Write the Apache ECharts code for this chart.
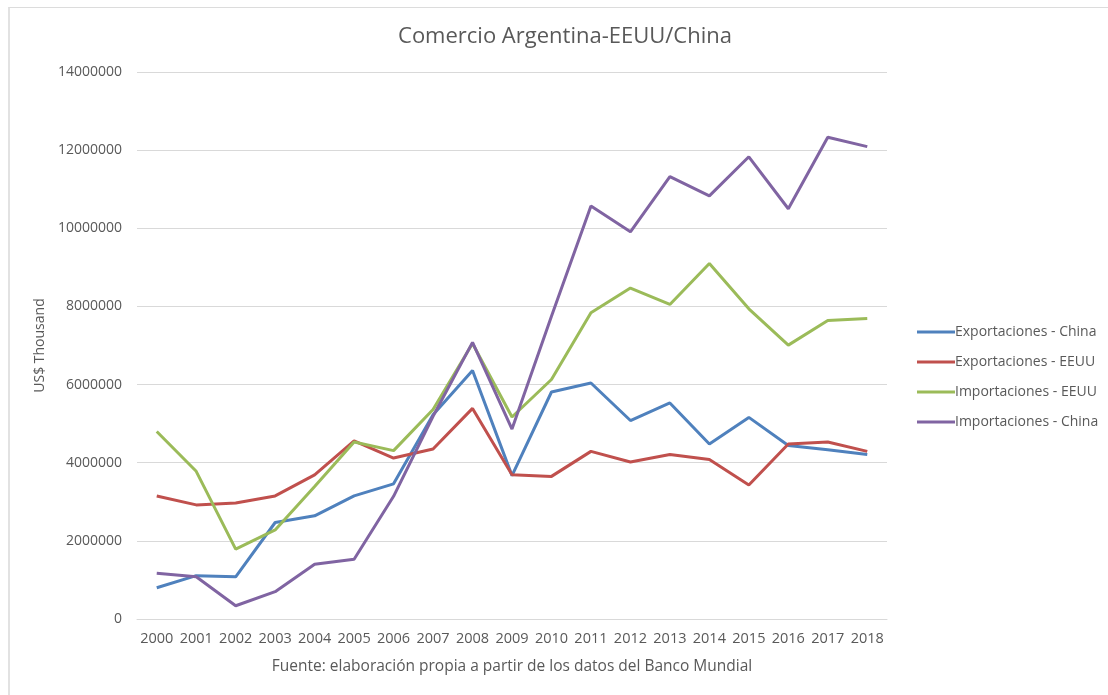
<!DOCTYPE html>
<html>
<head>
<meta charset="utf-8">
<script src="https://cdn.jsdelivr.net/npm/echarts@6/dist/echarts.min.js"></script>
<style>
  html, body { margin: 0; padding: 0; background: #fff; }
  #chart { width: 1108px; height: 695px; position: relative; }
  .frame {
    position: absolute; left: 8px; top: 7px; right: 0; bottom: 0;
    border-top: 1px solid #dcdcdc; border-left: 2px solid #e2e2e2;
    pointer-events: none;
  }
</style>
</head>
<body>
<div id="chart"></div>
<div class="frame"></div>
<script>
const years = ['2000', '2001', '2002', '2003', '2004', '2005', '2006', '2007', '2008', '2009',
  '2010', '2011', '2012', '2013', '2014', '2015', '2016', '2017', '2018']

// US$ Thousand
const expChina = [800000, 1110000, 1080000, 2470000, 2640000, 3150000, 3460000, 5230000, 6360000, 3670000,
  5810000, 6040000, 5080000, 5530000, 4480000, 5160000, 4440000, 4330000, 4210000]
const expEEUU = [3150000, 2920000, 2970000, 3150000, 3690000, 4560000, 4120000, 4350000, 5390000, 3690000,
  3650000, 4290000, 4020000, 4210000, 4080000, 3430000, 4480000, 4530000, 4290000]
const impEEUU = [4800000, 3780000, 1790000, 2280000, 3390000, 4530000, 4310000, 5360000, 7050000, 5170000,
  6130000, 7840000, 8470000, 8050000, 9100000, 7940000, 7010000, 7640000, 7690000]
const impChina = [1170000, 1080000, 340000, 700000, 1400000, 1530000, 3140000, 5190000, 7080000, 4860000,
  7750000, 10570000, 9910000, 11320000, 10830000, 11830000, 10500000, 12330000, 12090000]

const seriesNames = ['Exportaciones - China', 'Exportaciones - EEUU', 'Importaciones - EEUU', 'Importaciones - China']
const seriesColors = ['#4F81BD', '#C0504D', '#9BBB59', '#8064A2']
const seriesData = [expChina, expEEUU, impEEUU, impChina]

const textColor = '#595959'
const font = '"Open Sans", sans-serif'

const chart = echarts.init(document.getElementById('chart'), null, { renderer: 'canvas' })

chart.setOption({
  backgroundColor: '#fff',
  animation: false,
  title: {
    text: 'Comercio Argentina-EEUU/China',
    left: 560,
    top: 21,
    textAlign: 'center',
    textStyle: { color: textColor, fontSize: 22, fontWeight: 'normal', fontFamily: font }
  },
  legend: {
    orient: 'vertical',
    left: 912,
    top: 320,
    itemWidth: 38,
    itemHeight: 3,
    itemGap: 16,
    icon: 'rect',
    data: seriesNames,
    textStyle: { color: textColor, fontSize: 14, fontFamily: font, padding: [0, 0, 0, -5] }
  },
  grid: { left: 137, right: 221, top: 72, bottom: 76 },
  xAxis: {
    type: 'category',
    data: years,
    boundaryGap: true,
    name: 'Fuente: elaboración propia a partir de los datos del Banco Mundial',
    nameLocation: 'middle',
    nameGap: 40,
    nameTextStyle: { color: textColor, fontSize: 15.5, fontFamily: font },
    axisLine: { lineStyle: { color: '#d9d9d9', width: 1 } },
    axisTick: { show: false },
    axisLabel: { color: textColor, fontSize: 14.5, fontFamily: font, margin: 12, interval: 0 }
  },
  yAxis: {
    type: 'value',
    min: 0,
    max: 14000000,
    interval: 2000000,
    name: 'US$ Thousand',
    nameLocation: 'middle',
    nameGap: 67,
    nameRotate: 90,
    nameTextStyle: { color: textColor, fontSize: 14, fontFamily: font },
    axisLine: { show: false },
    axisTick: { show: false },
    axisLabel: { color: textColor, fontSize: 14, fontFamily: font, margin: 15, formatter: v => String(v) },
    splitLine: { lineStyle: { color: '#d9d9d9', width: 1 } }
  },
  series: seriesNames.map((name, i) => ({
    name: name,
    type: 'line',
    data: seriesData[i],
    symbol: 'none',
    lineStyle: { width: 3, color: seriesColors[i] },
    itemStyle: { color: seriesColors[i] }
  }))
})
</script>
</body>
</html>
